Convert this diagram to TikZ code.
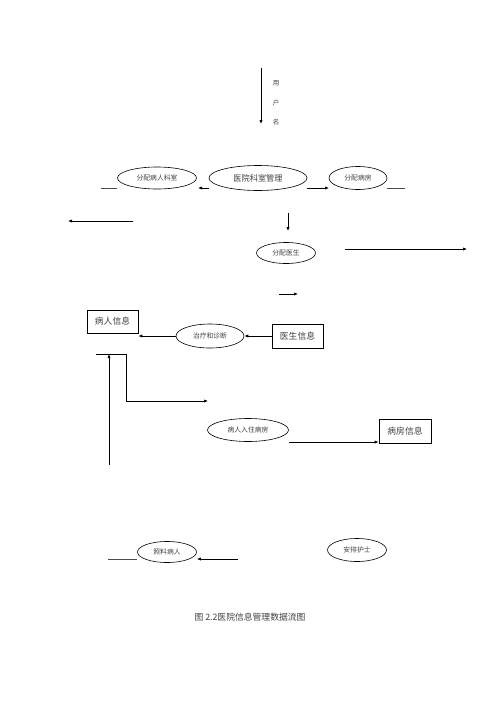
\documentclass[tikz,border=0pt]{standalone}
\usepackage{fontspec}
\newfontfamily\cjk{Noto Sans CJK SC}
\usetikzlibrary{shapes.geometric,arrows.meta}
\begin{document}
\begin{tikzpicture}[x=1pt,y=-1pt,
  proc/.style={draw,ellipse,line width=0.6pt,inner sep=0pt,text=black!75,font=\cjk\fontsize{6.8}{6.8}\selectfont},
  store/.style={draw,rectangle,line width=0.7pt,inner sep=0pt,text=black!75,font=\cjk\fontsize{8.8}{8.8}\selectfont},
  flow/.style={line width=0.7pt,-{Latex[length=4pt,width=3.2pt]}},
  plain/.style={line width=0.6pt,draw=black!70},
  lbl/.style={inner sep=0pt,text=black!75,font=\cjk\fontsize{6.5}{6.5}\selectfont}]
\useasboundingbox (0,0) rectangle (500,707);
% vertical user arrow
\coordinate (u1) at (261,68);
\coordinate (u2) at (261,124);
\draw[flow] (u1) -- (u2);
\node[lbl] (y1) at (276,83) {用};
\node[lbl] (y2) at (276,103) {户};
\node[lbl] (y3) at (276,122) {名};
% top ellipses
\node[proc,minimum width=79pt,minimum height=22pt] (fpks) at (157,178) {分配病人科室};
\node[proc,minimum width=98pt,minimum height=25pt,font=\cjk\fontsize{8.2}{8.2}\selectfont] (yygl) at (258,178) {医院科室管理};
\node[proc,minimum width=58pt,minimum height=23pt] (fpbf) at (358,178) {分配病房};
\coordinate (l1a) at (101,188); \coordinate (l1b) at (117,188);
\draw[plain] (l1a) -- (l1b);
\coordinate (a1s) at (209,188); \coordinate (a1e) at (198,188);
\draw[flow] (a1s) -- (a1e);
\coordinate (a2s) at (307,188); \coordinate (a2e) at (329,188);
\draw[flow] (a2s) -- (a2e);
\coordinate (l2a) at (387,188); \coordinate (l2b) at (405,188);
\draw[plain] (l2a) -- (l2b);
\coordinate (a3s) at (133,221); \coordinate (a3e) at (68,221);
\draw[flow] (a3s) -- (a3e);
\coordinate (a4s) at (288,213); \coordinate (a4e) at (288,231);
\draw[flow] (a4s) -- (a4e);
\node[proc,minimum width=59pt,minimum height=21pt] (fpys) at (286,253) {分配医生};
\coordinate (a5s) at (345,249); \coordinate (a5e) at (467,249);
\draw[flow] (a5s) -- (a5e);
\coordinate (a6s) at (279,294); \coordinate (a6e) at (298,294);
\draw[flow] (a6s) -- (a6e);
% middle
\node[store,minimum width=51pt,minimum height=23pt] (brxx) at (112.5,321.5) {病人信息};
\node[proc,minimum width=68pt,minimum height=24pt] (zlzd) at (210,336) {治疗和诊断};
\node[store,minimum width=51pt,minimum height=24pt] (ysxx) at (297.5,336) {医生信息};
\draw[flow] (ysxx.west) -- (zlzd.east);
\draw[flow] (zlzd.west) -- (brxx.east |- zlzd.west);
\coordinate (b1) at (96,354); \coordinate (b2) at (126,354);
\coordinate (b3) at (126,401); \coordinate (b4) at (208,401);
\draw[plain,draw=black] (b1) -- (b2);
\draw[flow] (b2) -- (b3) -- (b4);
\coordinate (c1) at (109,465); \coordinate (c2) at (109,354);
\draw[flow] (c1) -- (c2);
\node[proc,minimum width=81pt,minimum height=23pt] (rzbf) at (248,430) {病人入住病房};
\node[store,minimum width=52pt,minimum height=24pt] (bfxx) at (405,431) {病房信息};
\coordinate (d1) at (289,442);
\draw[flow] (d1) -- (d1 -| bfxx.west);
% bottom
\node[proc,minimum width=59pt,minimum height=21pt] (zlbr) at (167,552) {照料病人};
\node[proc,minimum width=59pt,minimum height=23pt] (apfs) at (357,550) {安排护士};
\coordinate (e1) at (108,559); \coordinate (e2) at (137,559);
\draw[plain] (e1) -- (e2);
\coordinate (f1) at (238,559);
\draw[flow] (f1) -- (f1 -| zlbr.east);
\node[lbl,font=\cjk\fontsize{8.8}{8.8}\selectfont] (cap) at (250,617) {图 2.2医院信息管理数据流图};
\end{tikzpicture}
\end{document}
